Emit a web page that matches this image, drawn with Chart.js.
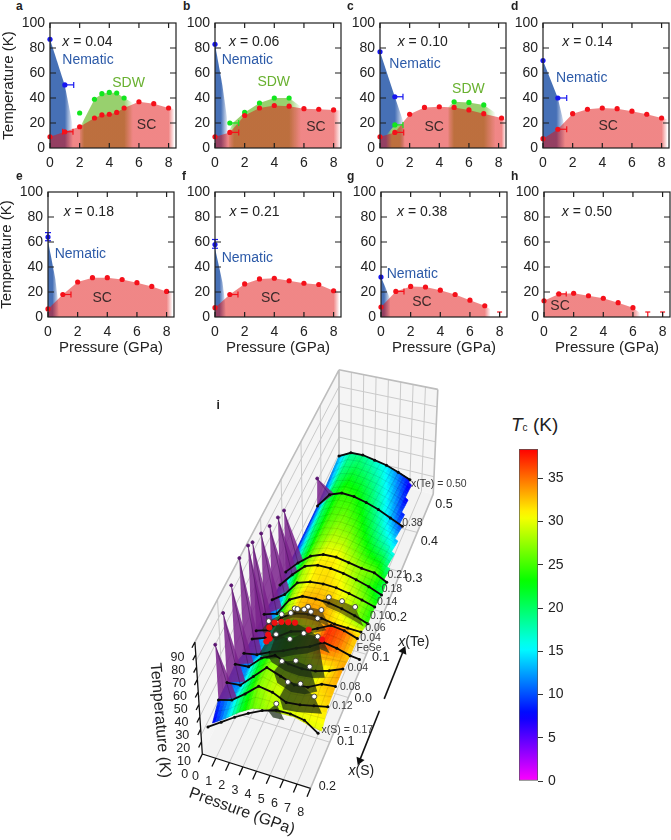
<!DOCTYPE html>
<html>
<head>
<meta charset="utf-8">
<script src="https://cdn.jsdelivr.net/npm/chart.js@4"></script>
<style>
  html, body { margin: 0; background: #fff; }
  #page { position: relative; width: 671px; height: 840px; overflow: hidden; font-family: "Liberation Sans", Arial, sans-serif; color: #222; }
  #page canvas { position: absolute; }
  .letter { position: absolute; font-weight: bold; font-size: 12px; line-height: 12px; }
  #tcTitle { position: absolute; left: 511px; top: 413px; font-size: 19px; line-height: 24px; white-space: nowrap; }
  #tcTitle i { font-size: 19px; }
  #tcTitle span { font-size: 10px; }
</style>
</head>
<body>
<div id="page">
  <div id="tcTitle"><i>T</i><span>c</span> (K)</div>
</div>
<script>
// ---- panel data: [pressure GPa, temperature K]
const scA = [[0,9],[1,13],[2,17],[3,24],[3.5,26.5],[4,27],[4.5,28.5],[5,32],[6,37],[7,35.5],[8,32]]
const scB = [[0,9],[1,12.5],[2,26],[3,32],[4,34],[5,33.5],[6,31.5],[7,31],[8,30.5]]
const scC = [[0,9],[1,12.5],[2,27],[3,32.5],[4,33],[5,32.5],[6,30.5],[7,27.5],[8.2,24]]
const scD = [[0,7.5],[1,15],[2,27.5],[3,31],[4,32],[5,31.5],[6,29.5],[7,27],[8,24]]
const scE = [[0,6.5],[1,18],[2,28],[3,31.5],[4,31.5],[5,30],[6,27.5],[7,24.5],[8,20.5]]
const scF = [[0,7.5],[1,18],[2,26.5],[3,30.5],[4,31],[5,29],[6,27],[7,26],[8,21]]
const scG = [[0,8],[1,20.5],[2,24.5],[3,24],[4,21.5],[5,18],[6,13.5],[7,9]]
const scH = [[0,13],[1,18.5],[2,19],[3,17],[4,15],[5,11.5],[6,7.5]]
// where the SC shading runs out past the last point
const scEnds = [[8.4,31],[8.5,30],[8.5,23],[8.4,23],[8.4,19.5],[8.4,20],[7.4,6],[6.5,3]]

const nemDotsA = [[0,87],[1,50.5]]
const nemDotsB = [[0,83]]
const nemDotsC = [[0,77],[1,41]]
const nemDotsD = [[0,70],[1,40]]
const nemDotsE = [[0,64]]
const nemDotsF = [[0,58]]
const nemDotsG = [[0,32]]
const nemAreaA = [[0,87],[1,50],[1.5,20],[1.6,0]]
const nemAreaB = [[0,83],[0.5,50],[0.8,25],[0.9,0]]
const nemAreaC = [[0,77],[1,41],[1.6,20],[1.7,0]]
const nemAreaD = [[0,70],[1,40],[1.5,15],[1.55,0]]
const nemAreaE = [[0,61],[0.5,30],[0.7,10],[0.75,0]]
const nemAreaF = [[0,55],[0.5,28],[0.7,10],[0.75,0]]
const nemAreaG = [[0,32],[0.6,15],[0.65,0]]

const sdwDotsA = [[2,28],[3,39],[3.5,43.5],[4,44.5],[4.5,44],[5,40]]
const sdwDotsB = [[1,20],[2,28.5],[3,36],[4,40],[5,40]]
const sdwDotsC = [[1,18.5],[5,37],[6,36.5],[7,34.5]]
const sdwAreaA = [[2,16],[3,39],[3.5,43.5],[4,44.5],[4.5,44],[5,40],[5.6,36]]
const sdwAreaB = [[0.9,12],[1.2,20],[2,28.5],[3,36],[4,40],[5,40],[5.8,33]]
const sdwAreaC1 = [[0.4,10],[1,18.5],[1.6,18],[1.7,0]]
const sdwAreaC2 = [[4.6,33],[5,37],[6,36.5],[7,34.5],[7.8,28]]

// ---- 3D panel: height of each composition row at P = 0..8 GPa (negative u = x(S), positive u = x(Te))
const tcSEdge = [7,14,22,28,30,30,30,27,25]
const tcS17 = [11,18,25,31,36,39,39,37,30]
const tcS12 = [15,18,26,35,33,28,29,31,33]
const tcS08 = [15,16,26,36,32,28,29,34,35]
const tcS04 = [16,17,27,32,28,27,28,31,35]
const tcFeSe = [11,13,18,22,27,31,37,35,32]
const tcTe04 = [9,13,17,24,27,32,37,35.5,32]
const tcTe06 = [9,12.5,26,32,34,33.5,31.5,31,30.5]
const tcTe10 = [9,12.5,27,32.5,33,32.5,30.5,27.5,24]
const tcTe14 = [7.5,15,27.5,31,32,31.5,29.5,27,24]
const tcTe18 = [6.5,18,28,31.5,31.5,30,27.5,24.5,20.5]
const tcTe21 = [7.5,18,26.5,30.5,31,29,27,26,21]
const tcTe38 = [8,20.5,24.5,24,21.5,18,13.5,9,4]
const tcTe50 = [13,18.5,19,17,15,11.5,7.5,0,0]
// surface colour on the sulphur side reads lower than the row heights
const hueSEdge = [7,13,21,26,28,29,30,30,30]
const hueS12 = [9,13,21,27,29,29,30,31,32]
const hueS08 = [10,12,21,27,29,30,30,32,33]
const hueS04 = [10,12,22,27,28,28,29,31,34]
const hueFeSe = [9.5,11,17,22,27,31,37,35,32]
const surfaceU = [-0.15,-0.12,-0.08,-0.04,0,0.04,0.06,0.10,0.14,0.18,0.21,0.38,0.50]
const surfaceT = [tcSEdge,tcS12,tcS08,tcS04,tcFeSe,tcTe04,tcTe06,tcTe10,tcTe14,tcTe18,tcTe21,tcTe38,tcTe50]
const surfaceHue = [hueSEdge,hueS12,hueS08,hueS04,hueFeSe,tcTe04,tcTe06,tcTe10,tcTe14,tcTe18,tcTe21,tcTe38,tcTe50]
const lineU = [-0.17,-0.12,-0.08,-0.04,0,0.04,0.06,0.10,0.14,0.18,0.21,0.38,0.50]
const lineT = [tcS17,tcS12,tcS08,tcS04,tcFeSe,tcTe04,tcTe06,tcTe10,tcTe14,tcTe18,tcTe21,tcTe38,tcTe50]
// nematic transition at P = 0
const sailU = [0.38,0.21,0.18,0.14,0.10,0.06,0.04,0,-0.04,-0.08,-0.12]
const sailT = [32,60,64,70,77,83,87,90,81,72,60]
// magnetic transition points on each composition
const domeS17 = [[5,44]]
const domeS12 = [[5.1,44],[6,45],[7,38]]
const domeS08 = [[4.1,44],[5.1,47],[6.1,45]]
const domeS04 = [[3.1,49],[4.1,48],[5.1,55],[6.1,55]]
const domeTe04 = sdwDotsA
const domeTe06 = sdwDotsB
const domeTe10 = [[5,37],[6,36.5],[7,34.5]]
const domeFeSe = [[1.75,26],[2,29],[1.9,32],[2,38],[2.4,43],[2.9,45],[3.4,46],[3.9,47],[4.9,44],[5.9,39]]

const tempTicks3d = [0,10,20,30,40,50,60,70,80,90]
const pressTicks3d = [0,1,2,3,4,5,6,7,8]
const colorbarRange = [0,38.4]

Chart.defaults.animation = false
Chart.defaults.font.family = '"Liberation Sans", Arial, sans-serif'
Chart.defaults.color = '#222'
Chart.defaults.plugins.legend.display = false
Chart.defaults.plugins.tooltip.enabled = false

const page = document.getElementById('page')
function addCanvas(left, top, w, h) {
  const c = document.createElement('canvas')
  c.width = w; c.height = h
  c.style.left = left + 'px'; c.style.top = top + 'px'
  c.style.width = w + 'px'; c.style.height = h + 'px'
  page.appendChild(c)
  return c
}
const toXY = arr => arr.map(p => ({x: p[0], y: p[1]}))
// keep the plot box exact, labels may hang over its ends
const noInset = s => { s.paddingLeft = 0; s.paddingRight = 0; s.paddingTop = 0; s.paddingBottom = 0 }

// horizontal fade along the pressure axis
function fade(rgb, alpha, stops) {
  return c => {
    const sx = c.chart.scales.x
    if (!sx || !c.chart.chartArea) return 'transparent'
    const p0 = sx.getPixelForValue(stops[0][0]), p1 = sx.getPixelForValue(stops[stops.length-1][0])
    if (!isFinite(p0) || !isFinite(p1) || p0 === p1) return 'transparent'
    const g = c.chart.ctx.createLinearGradient(p0, 0, p1, 0)
    stops.forEach(s => {
      const f = Math.min(1, Math.max(0, (sx.getPixelForValue(s[0]) - p0) / (p1 - p0)))
      g.addColorStop(f, 'rgba(' + rgb + ',' + (alpha * s[1]) + ')')
    })
    return g
  }
}
const area = (data, rgb, alpha, stops) => ({data: toXY(data), showLine: true, fill: 'origin', pointRadius: 0, borderWidth: 0, tension: 0, clip: false, backgroundColor: fade(rgb, alpha, stops)})
const dots = (data, color) => ({data: toXY(data), pointRadius: 2.6, pointBackgroundColor: color, pointBorderWidth: 0, clip: false})
const errBar = (data, color, radii, rot) => ({data: toXY(data), showLine: true, borderColor: color, borderWidth: 1.2, pointStyle: 'line', pointRadius: radii, pointRotation: rot, pointBorderColor: color, pointBorderWidth: 1.2, clip: false})

const RED = '#f5101a', BLUE = '#1616f0', GREEN = '#12e61e'
const blueRGB = '70,112,182', greenRGB = '152,208,110', redRGB = '225,15,15'
const nemColor = '#2c5aa8', sdwColor = '#69b130', scColor = '#3c2a2a'

const panels = [
  {id:'a', left:50, top:23, sc:scA, end:scEnds[0], fadeSc:[8,8.4], nemDots:nemDotsA, nemArea:nemAreaA, nemFade:[1,1.55],
   sdwDots:sdwDotsA, sdwAreas:[[sdwAreaA,[[1.9,0],[2.3,1],[5,1],[5.6,0]]]],
   err:[errBar([[1,50.5],[1.6,50.5]],BLUE,[0,3],90), errBar([[0.85,13],[1.55,13]],RED,[3,3],90)],
   labels:[['x',0.83,85],['Nematic',0.83,70,nemColor],['SDW',4.2,52,sdwColor],['SC',5.86,18.5,scColor]], text:'0.04', lx:19, ly:0},
  {id:'b', left:215, top:23, sc:scB, end:scEnds[1], fadeSc:[8,8.5], nemDots:nemDotsB, nemArea:nemAreaB, nemFade:[0.4,0.9],
   sdwDots:sdwDotsB, sdwAreas:[[sdwAreaB,[[0.8,0],[1.3,1],[5,1],[5.8,0]]]],
   err:[errBar([[1,20],[1.6,20]],GREEN,[0,3],90), errBar([[1,12.5],[1.6,12.5]],RED,[0,3],90)],
   labels:[['x',0.95,85],['Nematic',0.45,70,nemColor],['SDW',2.86,53,sdwColor],['SC',6.15,17,scColor]], text:'0.06', lx:186, ly:0},
  {id:'c', left:380, top:23, sc:scC, end:scEnds[2], fadeSc:[8.2,8.5], nemDots:nemDotsC, nemArea:nemAreaC, nemFade:[1,1.65],
   sdwDots:sdwDotsC, sdwAreas:[[sdwAreaC1,[[0.4,0],[0.8,1],[1.3,1],[1.7,0]]],[sdwAreaC2,[[4.5,0],[5,1],[7,1],[7.8,0]]]],
   err:[errBar([[1,41],[1.55,41]],BLUE,[0,3],90), errBar([[1,18.5],[1.55,18.5]],GREEN,[0,3],90), errBar([[1,12.5],[1.6,12.5]],RED,[0,3],90)],
   labels:[['x',1.19,85],['Nematic',0.63,67,nemColor],['SDW',4.86,47,sdwColor],['SC',3,17,scColor]], text:'0.10', lx:350, ly:0},
  {id:'d', left:543, top:23, sc:scD, end:scEnds[3], fadeSc:[8,8.4], nemDots:nemDotsD, nemArea:nemAreaD, nemFade:[0.9,1.5],
   err:[errBar([[1,40],[1.6,40]],BLUE,[0,3],90), errBar([[1,15],[1.6,15]],RED,[0,3],90)],
   labels:[['x',1.3,85],['Nematic',0.88,56,nemColor],['SC',3.74,17.5,scColor]], text:'0.14', lx:514, ly:0},
  {id:'e', left:48, top:192, sc:scE, end:scEnds[4], fadeSc:[8,8.4], nemDots:nemDotsE, nemArea:nemAreaE, nemFade:[0.3,0.75],
   err:[errBar([[0,61],[0,67.5]],BLUE,[3,3],0), errBar([[1,18],[1.55,18]],RED,[0,3],90)],
   labels:[['x',1.06,84],['Nematic',0.45,50.5,nemColor],['SC',3,15,scColor]], text:'0.18', lx:19, ly:170, bottom:true},
  {id:'f', left:215, top:192, sc:scF, end:scEnds[5], fadeSc:[8,8.4], nemDots:nemDotsF, nemArea:nemAreaF, nemFade:[0.3,0.75],
   err:[errBar([[0,55],[0,62]],BLUE,[3,3],0), errBar([[1,18],[1.55,18]],RED,[0,3],90)],
   labels:[['x',0.97,84],['Nematic',0.45,47,nemColor],['SC',3.1,15,scColor]], text:'0.21', lx:185, ly:170, bottom:true},
  {id:'g', left:381, top:192, sc:scG, end:scEnds[6], fadeSc:[7,7.4], nemDots:nemDotsG, nemArea:nemAreaG, nemFade:[0.2,0.65],
   err:[errBar([[1,20.5],[1.55,20.5]],RED,[0,3],90), errBar([[8,0],[8,4]],RED,[0,2.5],0)],
   labels:[['x',1.08,84],['Nematic',0.38,34,nemColor],['SC',2.1,12,scColor]], text:'0.38', lx:350, ly:170, bottom:true},
  {id:'h', left:544, top:192, sc:scH, end:scEnds[7], fadeSc:[6,6.5],
   err:[errBar([[0.8,18.5],[1.5,18.5]],RED,[0,2.5],90), errBar([[7,0],[7,4]],RED,[0,2.5],0), errBar([[8,0],[8,4]],RED,[0,2.5],0)],
   labels:[['x',1.2,84],['SC',0.43,9,scColor]], text:'0.50', lx:514, ly:170, bottom:true}
]

// frame and inward ticks on all four sides, plus text placed by data value
const panelDecor = {
  id: 'panelDecor',
  afterDatasetsDraw(chart, args, opts) {
    const {ctx, chartArea: a, scales: {x, y}} = chart
    ctx.save()
    ctx.strokeStyle = '#1e1e1e'
    ctx.lineWidth = 1.2
    ctx.strokeRect(a.left, a.top, a.right - a.left, a.bottom - a.top)
    ctx.beginPath()
    ;[0,2,4,6,8].forEach(v => {
      const px = x.getPixelForValue(v)
      ctx.moveTo(px, a.top); ctx.lineTo(px, a.top + 5)
      ctx.moveTo(px, a.bottom); ctx.lineTo(px, a.bottom - 5)
    })
    ;[20,40,60,80].forEach(v => {
      const py = y.getPixelForValue(v)
      ctx.moveTo(a.left, py); ctx.lineTo(a.left + 6, py)
      ctx.moveTo(a.right, py); ctx.lineTo(a.right - 6, py)
    })
    ctx.stroke()
    ctx.textBaseline = 'middle'
    ctx.textAlign = 'left'
    opts.labels.forEach(l => {
      const px = x.getPixelForValue(l[1]), py = y.getPixelForValue(l[2])
      if (l[0] === 'x') {
        ctx.fillStyle = '#222'
        ctx.font = 'italic 14px "Liberation Sans"'
        ctx.fillText('x', px, py)
        ctx.font = '14px "Liberation Sans"'
        ctx.fillText(' = ' + opts.text, px + ctx.measureText('x').width, py)
      } else {
        ctx.fillStyle = l[3]
        ctx.font = '14px "Liberation Sans"'
        ctx.fillText(l[0], px, py)
      }
    })
    ctx.restore()
  }
}

panels.forEach(p => {
  const letter = document.createElement('div')
  letter.className = 'letter'
  letter.textContent = p.id
  letter.style.left = (p.lx - 3) + 'px'
  letter.style.top = p.ly + 'px'
  page.appendChild(letter)

  const ds = []
  if (p.nemArea) ds.push(area(p.nemArea, blueRGB, 1, [[p.nemFade[0],1],[p.nemFade[1],0]]))
  if (p.sdwAreas) p.sdwAreas.forEach(s => ds.push(area(s[0], greenRGB, 1, s[1])))
  ds.push(area(p.sc.concat([p.end]), redRGB, 0.5, [[p.fadeSc[0],1],[p.fadeSc[1],0]]))
  p.err.forEach(e => ds.push(e))
  if (p.sdwDots) ds.push(dots(p.sdwDots, GREEN))
  if (p.nemDots) ds.push(dots(p.nemDots, BLUE))
  ds.push(dots(p.sc, RED))
  ds.forEach((d, i) => { d.order = -i })

  const showY = p.id === 'a' || p.id === 'e'
  const bottomH = p.bottom ? 40 : 24
  new Chart(addCanvas(p.left - 50, p.top - 6, 182, 131 + bottomH), {
    type: 'scatter',
    data: {datasets: ds},
    plugins: [panelDecor],
    options: {
      responsive: false,
      layout: {padding: {top: 6, right: 6, left: 0, bottom: 0}},
      plugins: {panelDecor: {labels: p.labels, text: p.text}},
      scales: {
        x: {
          type: 'linear', min: 0, max: 8.5,
          grid: {display: false, drawTicks: false}, border: {display: false},
          ticks: {stepSize: 2, includeBounds: false, maxRotation: 0, padding: 7, font: {size: 14}, color: '#222'},
          title: {display: !!p.bottom, text: 'Pressure (GPa)', font: {size: 15}, color: '#222', padding: 0},
          afterFit: s => { s.height = bottomH; noInset(s) }
        },
        y: {
          type: 'linear', min: 0, max: 100,
          grid: {display: false, drawTicks: false}, border: {display: false},
          ticks: {stepSize: 20, padding: 5, font: {size: 14}, color: '#222'},
          title: {display: showY, text: 'Temperature (K)', font: {size: 15}, color: '#222', padding: 0},
          afterFit: s => { s.width = 50; noInset(s) }
        }
      }
    }
  })
})

// ---- 3D panel projection: pressure, composition, temperature to page position
const floorFL = [199.3,757.3], floorFR = [310.7,792.3], floorBL = [340,468], floorBR = [437,492]
const topFL = [191.7,643], topFR = [316,666], topBL = [340,365], topBR = [441.7,385]
const T_TOP = 90
function bil(a, b, c, d, s, t) {
  return [ (a[0]*(1-s)+b[0]*s)*(1-t) + (c[0]*(1-s)+d[0]*s)*t, (a[1]*(1-s)+b[1]*s)*(1-t) + (c[1]*(1-s)+d[1]*s)*t ]
}
function p3(P, u, T) {
  const t = (u + 0.2) / 0.7
  const d = 1.115 * t / (1 + 0.115 * t)
  const s = P / 8
  const f = bil(floorFL, floorFR, floorBL, floorBR, s, d)
  const g = bil(topFL, topFR, topBL, topBR, s, d)
  const k = T / T_TOP
  return {x: f[0] + (g[0]-f[0])*k, y: f[1] + (g[1]-f[1])*k}
}
const tcColor = T => 'hsl(' + (300 * (1 - Math.min(T, 38.4) / 38.4)) + ',100%,50%)'
function rowAt(row, P) {
  const i = Math.min(Math.floor(P), row.length - 2), f = P - i
  return row[i]*(1-f) + row[i+1]*f
}
// the surface stops short of 8 GPa on the tellurium-rich side
const surfaceEnd = u => u <= 0.21 ? 8 : (u <= 0.38 ? 8 - (u - 0.21) / 0.17 : 7 - (u - 0.38) / 0.12 * 0.8)

// walls, floor and the coloured Tc surface
const sceneBack = {
  id: 'sceneBack',
  beforeDatasetsDraw(chart) {
    const {ctx, scales: {x, y}} = chart
    const px = p => [x.getPixelForValue(p.x), y.getPixelForValue(p.y)]
    const poly = (pts, fill, stroke) => {
      ctx.beginPath()
      pts.forEach((p, i) => { const q = px(p); i ? ctx.lineTo(q[0], q[1]) : ctx.moveTo(q[0], q[1]) })
      ctx.closePath()
      if (fill) { ctx.fillStyle = fill; ctx.fill() }
      if (stroke) { ctx.strokeStyle = stroke; ctx.stroke() }
    }
    const seg = (a, b) => { const q = px(a), r = px(b); ctx.moveTo(q[0], q[1]); ctx.lineTo(r[0], r[1]) }
    ctx.save()
    ctx.lineJoin = 'round'
    // left wall, back wall, floor
    poly([p3(0,-0.2,0),p3(0,0.5,0),p3(0,0.5,T_TOP),p3(0,-0.2,T_TOP)], '#f5f5f5')
    poly([p3(0,0.5,0),p3(8,0.5,0),p3(8,0.5,T_TOP),p3(0,0.5,T_TOP)], '#f5f5f5')
    poly([p3(0,-0.2,0),p3(8,-0.2,0),p3(8,0.5,0),p3(0,0.5,0)], '#f3f3f3')
    ctx.strokeStyle = '#cacaca'
    ctx.lineWidth = 1
    ctx.beginPath()
    for (let P = 1; P < 8; P++) {
      seg(p3(P,-0.2,0), p3(P,0.5,0))
      seg(p3(P,0.5,0), p3(P,0.5,T_TOP))
    }
    for (let u = -0.1; u < 0.45; u += 0.1) {
      seg(p3(0,u,0), p3(8,u,0))
      seg(p3(0,u,0), p3(0,u,T_TOP))
    }
    for (let T = 15; T < T_TOP; T += 15) {
      seg(p3(0,-0.2,T), p3(0,0.5,T))
      seg(p3(0,0.5,T), p3(8,0.5,T))
    }
    ctx.stroke()
    ctx.strokeStyle = '#bdbdbd'
    ctx.lineWidth = 1.6
    ctx.beginPath()
    seg(p3(0,-0.2,T_TOP), p3(0,0.5,T_TOP))
    seg(p3(0,0.5,T_TOP), p3(8,0.5,T_TOP))
    seg(p3(8,0.5,T_TOP), p3(8,0.5,0))
    seg(p3(0,0.5,0), p3(0,0.5,T_TOP))
    seg(p3(8,-0.2,0), p3(8,0.5,0))
    ctx.stroke()
    // axes in black
    ctx.strokeStyle = '#111'
    ctx.lineWidth = 1.3
    ctx.beginPath()
    seg(p3(0,-0.2,0), p3(0,-0.2,T_TOP))
    seg(p3(0,-0.2,0), p3(8,-0.2,0))
    pressTicks3d.forEach(P => seg(p3(P,-0.2,0), p3(P,-0.218,0)))
    tempTicks3d.forEach(T => seg(p3(0,-0.2,T), p3(0,-0.213,T)))
    ctx.stroke()

    // surface cells, back row first
    const dP = 0.25
    for (let r = surfaceU.length - 2; r >= 0; r--) {
      const u0 = surfaceU[r], u1 = surfaceU[r+1]
      const n = Math.ceil((u1 - u0) / 0.008)
      for (let k = n - 1; k >= 0; k--) {
        const a = k / n, b = (k + 1) / n
        const ua = u0 + (u1-u0)*a, ub = u0 + (u1-u0)*b
        for (let P = 0; P < 8; P += dP) {
          const Q = P + dP
          if (Q > surfaceEnd(ub) + 0.01) continue
          const T = (p, f) => rowAt(surfaceT[r], p)*(1-f) + rowAt(surfaceT[r+1], p)*f
          const H = (p, f) => rowAt(surfaceHue[r], p)*(1-f) + rowAt(surfaceHue[r+1], p)*f
          const t00 = T(P,a), t10 = T(Q,a), t01 = T(P,b), t11 = T(Q,b)
          const col = tcColor((H(P,a)+H(Q,a)+H(P,b)+H(Q,b))/4)
          ctx.lineWidth = 0.7
          poly([p3(P,ua,t00),p3(Q,ua,t10),p3(Q,ub,t11),p3(P,ub,t01)], col, col)
        }
      }
      // mesh across the row
      ctx.strokeStyle = 'rgba(0,0,0,0.16)'
      ctx.lineWidth = 0.6
      const m = Math.ceil((u1 - u0) / 0.02)
      ctx.beginPath()
      for (let k = 0; k <= m; k++) {
        const f = k / m, u = u0 + (u1-u0)*f
        for (let P = 0; P < 8; P += 0.5) {
          const Q = P + 0.5
          if (Q > surfaceEnd(u) + 0.01) continue
          const ta = rowAt(surfaceT[r],P)*(1-f) + rowAt(surfaceT[r+1],P)*f
          const tb = rowAt(surfaceT[r],Q)*(1-f) + rowAt(surfaceT[r+1],Q)*f
          seg(p3(P,u,ta), p3(Q,u,tb))
          if (k < m) {
            const g = (k+1)/m, v = u0 + (u1-u0)*g
            const tc = rowAt(surfaceT[r],P)*(1-g) + rowAt(surfaceT[r+1],P)*g
            seg(p3(P,u,ta), p3(P,v,tc))
          }
        }
      }
      ctx.stroke()
    }
    ctx.restore()
  }
}

// text of the 3D panel, by page position
const rowLabels = [['x(Te) = 0.50',414,482],['0.38',405,522],['0.21',390,575],['0.18',384,589],['0.14',379,602],['0.10',372,617],['0.06',367,629],['0.04',362,639],['FeSe',358,649],['0.04',349,670],['0.08',341,689],['0.12',333,708],['x(S) = 0.17',322,733]]
const compLabels = [['0.5',448,503],['0.4',433,540],['0.3',417,578],['0.2',401,618],['0.1',383,659],['0.0',365,701],['0.1',347,745],['0.2',328,791]]
const sceneText = {
  id: 'sceneText',
  afterDatasetsDraw(chart) {
    const {ctx, scales: {x, y}} = chart
    const X = v => x.getPixelForValue(v), Y = v => y.getPixelForValue(v)
    ctx.save()
    ctx.textBaseline = 'middle'
    ctx.textAlign = 'left'
    ctx.fillStyle = '#3a3a3a'
    ctx.font = '10.5px "Liberation Sans"'
    rowLabels.forEach(l => ctx.fillText(l[0], X(l[1]), Y(l[2])))
    ctx.textAlign = 'center'
    ctx.fillStyle = '#222'
    ctx.font = '12.5px "Liberation Sans"'
    compLabels.forEach(l => ctx.fillText(l[0], X(l[1]), Y(l[2])))
    tempTicks3d.forEach(T => { const q = p3(0,-0.2,T); ctx.fillText(String(T), X(q.x - 18), Y(q.y + 21 - T*0.055)) })
    pressTicks3d.forEach(P => { const q = p3(P,-0.2,0); ctx.fillText(String(P), X(q.x - 7 - P*0.4), Y(q.y + 23 + P*0.25)) })
    ctx.font = 'bold 12px "Liberation Sans"'
    ctx.fillText('i', X(215.7), Y(402))
    ctx.font = '14px "Liberation Sans"'
    const axisName = (name, cx, cy) => {
      ctx.font = 'italic 14px "Liberation Sans"'
      const w1 = ctx.measureText('x').width
      ctx.font = '14px "Liberation Sans"'
      const w2 = ctx.measureText('(' + name + ')').width
      const left = X(cx) - (w1 + w2) / 2
      ctx.textAlign = 'left'
      ctx.font = 'italic 14px "Liberation Sans"'
      ctx.fillText('x', left, Y(cy))
      ctx.font = '14px "Liberation Sans"'
      ctx.fillText('(' + name + ')', left + w1, Y(cy))
      ctx.textAlign = 'center'
    }
    axisName('Te', 417, 643)
    axisName('S', 363, 775)
    ctx.font = '16px "Liberation Sans"'
    ctx.save()
    ctx.translate(X(240), Y(816))
    ctx.rotate(19.8 * Math.PI / 180)
    ctx.fillText('Pressure (GPa)', 0, 0)
    ctx.restore()
    ctx.save()
    ctx.translate(X(155.7), Y(723))
    ctx.rotate(85 * Math.PI / 180)
    ctx.fillText('Temperature (K)', 0, 0)
    ctx.restore()
    ctx.restore()
  }
}

const sceneSets = []
const shape = (pts, color) => sceneSets.push({data: pts, showLine: true, fill: 'shape', backgroundColor: color, borderWidth: 0, pointRadius: 0, tension: 0, clip: false})
const line3d = (pts, w, color, r) => sceneSets.push({data: pts, showLine: true, borderColor: color, borderWidth: w, pointRadius: r, pointBackgroundColor: color, pointBorderWidth: 0, tension: 0, clip: false})
const marks = (pts, fill, edge, r) => sceneSets.push({data: pts, pointRadius: r, pointBackgroundColor: fill, pointBorderColor: edge, pointBorderWidth: 0.9, clip: false})

// purple nematic sails, back to front
sailU.forEach((u, i) => {
  const row = lineT[lineU.indexOf(u)]
  shape([p3(0,u,row[0]), p3(0,u,sailT[i]), p3(1.4,u,rowAt(row,1.4))], 'rgba(122,34,140,0.85)')
  line3d([p3(0,u,sailT[i]), p3(1,u,row[1])], 0.6, '#4c1260', 0)
  marks([p3(0,u,sailT[i])], '#5a1470', '#5a1470', 1.5)
})
const domeRows = [[0.10,domeTe10,tcTe10],[0.06,domeTe06,tcTe06],[0.04,domeTe04,tcTe04],[0,domeFeSe,tcFeSe],[-0.04,domeS04,tcS04],[-0.08,domeS08,tcS08],[-0.12,domeS12,tcS12],[-0.17,domeS17,tcS17]]
// black Tc lines and the dark magnetic domes, back to front
lineU.slice().reverse().forEach((u, i) => {
  const row = lineT[lineU.length - 1 - i]
  const dome = domeRows.find(d => d[0] === u)
  const last = u === 0.5 ? 6 : (u === 0.38 ? 7 : 8)
  const pts = row.slice(0, last + 1).map((T, P) => p3(P, u, T))
  if (u === 0) pts.push(p3(8.7, u, 31))
  if (dome) {
    const d = dome[1]
    const sorted = d.slice().sort((a, b) => a[0] - b[0])
    const first = sorted[0][0] - 0.6, end = Math.min(sorted[sorted.length-1][0] + 0.8, 8)
    const front = u > 0 ? 0.01 : 0.016
    const poly = [p3(first,u,rowAt(row,first))].concat(sorted.map(q => p3(q[0],u,q[1])))
    poly.push(p3(end,u-front,rowAt(row,end)))
    for (let P = Math.floor(end); P > first; P--) poly.push(p3(P,u-front,rowAt(row,P)))
    shape(poly, u > 0.03 ? 'rgba(62,52,14,0.62)' : 'rgba(24,42,18,0.7)')
  }
  line3d(pts, 1.8, '#0a0a0a', 1.5)
  if (dome) {
    if (u === 0) marks(dome[1].map(q => p3(q[0],u,q[1])), '#f01010', '#f01010', 2.7)
    else marks(dome[1].map(q => p3(q[0],u,q[1])), '#ffffff', '#333', 2.5)
  }
})
// composition arrows, in floor coordinates past the 8 GPa edge
const arrow = (a, b, rot) => {
  sceneSets.push({data: [a, b], showLine: true, borderColor: '#111', borderWidth: 1.6, pointStyle: 'triangle', pointRadius: [0,5], pointRotation: rot, pointBackgroundColor: '#111', pointBorderWidth: 0, clip: false})
}
arrow(p3(10.5,0.019,0), p3(10.5,0.13,0), 23)
arrow(p3(10.5,-0.008,0), p3(10.5,-0.118,0), 202)
sceneSets.forEach((d, i) => { d.order = -i })

new Chart(addCanvas(130, 355, 350, 485), {
  type: 'scatter',
  data: {datasets: sceneSets},
  plugins: [sceneBack, sceneText],
  options: {
    responsive: false,
    layout: {padding: 0},
    scales: {
      x: {type: 'linear', display: false, min: 130, max: 480},
      y: {type: 'linear', display: false, min: 355, max: 840, reverse: true}
    }
  }
})

// ---- colour bar
new Chart(addCanvas(510, 440, 70, 350), {
  type: 'bar',
  data: {
    labels: ['Tc'],
    datasets: [{
      data: [colorbarRange],
      borderColor: '#555',
      borderWidth: 1,
      borderSkipped: false,
      barPercentage: 1,
      categoryPercentage: 1,
      backgroundColor: c => {
        const sy = c.chart.scales.y
        if (!sy || !c.chart.chartArea) return 'transparent'
        const y0 = sy.getPixelForValue(0), y1 = sy.getPixelForValue(colorbarRange[1])
        if (!isFinite(y0) || !isFinite(y1)) return 'transparent'
        const g = c.chart.ctx.createLinearGradient(0, y0, 0, y1)
        for (let i = 0; i <= 48; i++) g.addColorStop(i / 48, tcColor(colorbarRange[1] * i / 48))
        return g
      }
    }]
  },
  options: {
    responsive: false,
    layout: {padding: {left: 9, top: 9, bottom: 9, right: 0}},
    scales: {
      x: {display: false},
      y: {
        position: 'right', min: 0, max: colorbarRange[1],
        grid: {drawOnChartArea: false, tickLength: 5, color: '#333'}, border: {display: false},
        ticks: {stepSize: 5, includeBounds: false, padding: 5, font: {size: 14}, color: '#222'},
        afterFit: s => { s.width = 42; noInset(s) }
      }
    }
  }
})
</script>
</body>
</html>
